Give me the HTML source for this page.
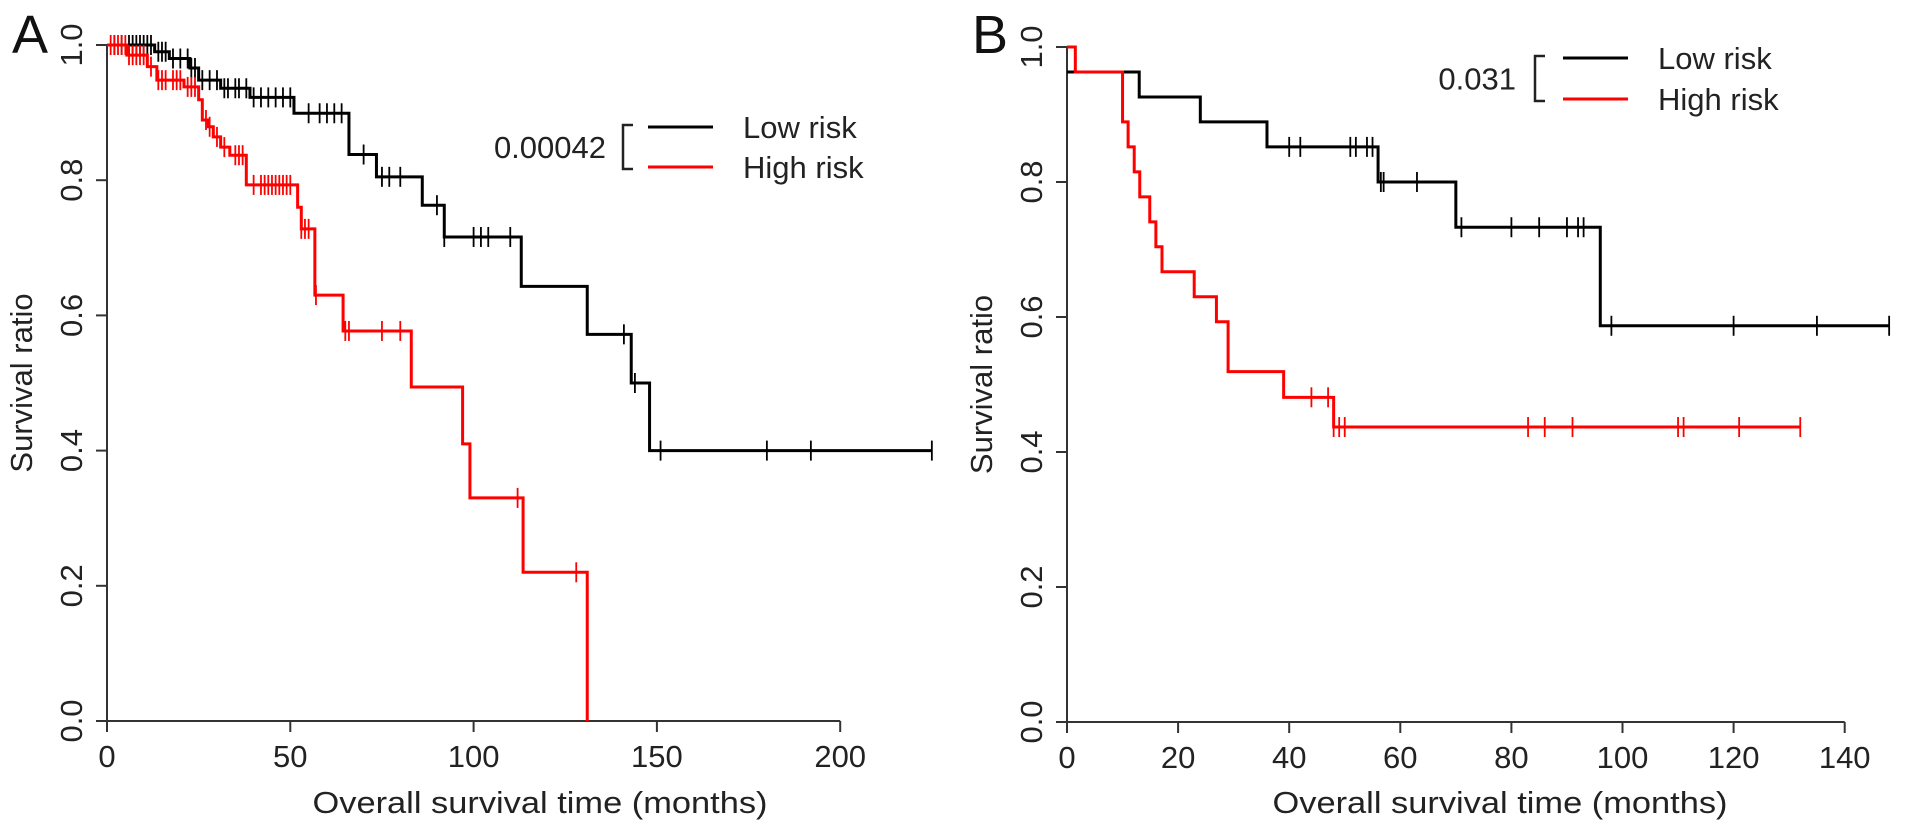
<!DOCTYPE html>
<html><head><meta charset="utf-8"><style>
html,body{margin:0;padding:0;background:#fff;}
svg{display:block;font-family:"Liberation Sans",Arial,sans-serif;}
</style></head><body>
<svg id="fig" width="1913" height="835" viewBox="0 0 1913 835" xmlns="http://www.w3.org/2000/svg"></svg>
<script>
// Panel A data
const aTicksX = [0, 50, 100, 150, 200];
const yTicks = [0.0, 0.2, 0.4, 0.6, 0.8, 1.0];
const yTickLabels = ["0.0", "0.2", "0.4", "0.6", "0.8", "1.0"];
const aLowTimes = [0, 13, 17, 22.6, 25, 31, 39, 51, 66, 73.5, 86, 92, 113, 131, 143, 148];
const aLowSurv = [1.0, 0.99, 0.98, 0.966, 0.948, 0.936, 0.9225, 0.899, 0.838, 0.805, 0.763, 0.716, 0.643, 0.572, 0.5, 0.4];
const aLowEnd = 225;
const aLowCensor = [2,4,6,7,8,9,10,11,12,14,15,16,18,20,22,23,24,26,28,30,32,33,35,36,38,40,42,44,46,48,50,55,58,60,62,64,70,75,77,80,90,92,100,102,104,110,141,144,151,180,192,225];
const aHighTimes = [0, 5.4, 11, 13.6, 21, 25, 26, 27.6, 29, 31, 33.5, 38, 52, 53, 56.7, 64.4, 83, 97, 99, 113.5, 131];
const aHighSurv = [1.0, 0.985, 0.968, 0.948, 0.938, 0.919, 0.889, 0.879, 0.864, 0.849, 0.837, 0.793, 0.76, 0.728, 0.63, 0.577, 0.494, 0.41, 0.33, 0.22, 0.0];
const aHighEnd = 131;
const aHighCensor = [1,2,3,4,5,6,7,8,9,10,12,14,15,16,18,19,20,22,23,24,27,28,30,32,35,36,37,40,42,43,44,45,46,47,48,49,50,53,54,55,57,65,66,75,80,112,128];
// Panel B data
const bTicksX = [0, 20, 40, 60, 80, 100, 120, 140];
const bLowTimes = [0, 13, 24, 36, 56, 70, 96];
const bLowSurv = [0.963, 0.926, 0.889, 0.852, 0.8, 0.733, 0.587];
const bLowEnd = 148;
const bLowCensor = [40, 42, 51, 52, 54, 55, 56.5, 57, 63, 71, 80, 85, 90, 92, 93, 98, 120, 135, 148];
const bHighTimes = [0, 1.5, 10, 11, 12.1, 13.1, 14.9, 16, 17.1, 22.9, 26.9, 29, 39, 48];
const bHighSurv = [1.0, 0.963, 0.889, 0.852, 0.815, 0.778, 0.741, 0.704, 0.667, 0.63, 0.593, 0.519, 0.481, 0.437];
const bHighEnd = 132;
const bHighCensor = [44, 47, 48, 49, 50, 83, 86, 91, 110, 111, 121, 132];

const NS = "http://www.w3.org/2000/svg";
const svg = document.getElementById("fig");
function mk(tag, attrs, parent) {
  const e = document.createElementNS(NS, tag);
  for (const k in attrs) e.setAttribute(k, attrs[k]);
  (parent || svg).appendChild(e);
  return e;
}
function stepAt(times, surv, t) {
  let s = surv[0];
  for (let i = 0; i < times.length; i++) if (times[i] <= t) s = surv[i];
  return s;
}

function panel(cfg) {
  const g = mk("g", {});
  
  
  const X = t => cfg.x0 + (t - 0) * cfg.pxPer;
  const Y = v => cfg.yBot - v * (cfg.yBot - cfg.yTop);
  // axes
  const yAxis = mk("line", {x1: cfg.x0, y1: Y(1), x2: cfg.x0, y2: Y(0), stroke: "#333", "stroke-width": 2}, g);
  
  
  const xMax = cfg.ticksX[cfg.ticksX.length - 1];
  const xAxis = mk("line", {x1: X(0), y1: Y(0), x2: X(xMax), y2: Y(0), stroke: "#333", "stroke-width": 2}, g);
  
  
  yTicks.forEach((v, i) => {
    mk("line", {x1: cfg.x0 - 11, y1: Y(v), x2: cfg.x0, y2: Y(v), stroke: "#333", "stroke-width": 2}, g);
    const tx = mk("text", {x: 0, y: 0, "font-size": 31, fill: "#222", "text-anchor": "middle",
      transform: `translate(${cfg.x0 - 25},${Y(v)}) rotate(-90)`}, g);
    tx.textContent = yTickLabels[i];
    
    
  });
  cfg.ticksX.forEach(t => {
    mk("line", {x1: X(t), y1: Y(0), x2: X(t), y2: Y(0) + 11, stroke: "#333", "stroke-width": 2}, g);
    const tx = mk("text", {x: X(t), y: Y(0) + 46, "font-size": 31, fill: "#222", "text-anchor": "middle"}, g);
    tx.textContent = String(t);
    
    
  });
  const yt = mk("text", {x: 0, y: 0, "font-size": 31, fill: "#222", "text-anchor": "middle",
    transform: `translate(${cfg.x0 - 75},${(Y(0) + Y(1)) / 2}) rotate(-90)`}, g);
  yt.textContent = "Survival ratio";
  
  
  const xt = mk("text", {x: cfg.titleX, y: 813, "font-size": 31, fill: "#222", "text-anchor": "middle", textLength: 455, lengthAdjust: "spacingAndGlyphs"}, g);
  xt.textContent = "Overall survival time  (months)";
  
  
  const lt = mk("text", {x: cfg.x0 - 95, y: 53, "font-size": 54, fill: "#111"}, g);
  lt.textContent = cfg.letter;
  
  

  cfg.series.forEach(s => {
    let d = `M${X(s.times[0])},${Y(s.surv[0])}`;
    for (let i = 1; i < s.times.length; i++) {
      d += ` H${X(s.times[i])} V${Y(s.surv[i])}`;
    }
    d += ` H${X(s.end)}`;
    const p = mk("path", {d: d, fill: "none", stroke: s.color, "stroke-width": 3}, g);
    
    
    s.censor.forEach(t => {
      const v = stepAt(s.times, s.surv, t);
      const c = mk("line", {x1: X(t), y1: Y(v) - 10, x2: X(t), y2: Y(v) + 10, stroke: s.color, "stroke-width": 1.8}, g);
      
      
    });
  });

  // legend
  const L = cfg.legend;
  const lg = mk("g", {}, g);
  
  
  const pv = mk("text", {x: L.pEnd, y: (L.y1 + L.y2) / 2 + 11, "font-size": 31, fill: "#222", "text-anchor": "end"}, lg);
  pv.textContent = L.p;
  
  
  mk("path", {d: `M${L.bx + 10},${L.y1 - 2} H${L.bx} V${L.y2 + 2} H${L.bx + 10}`, fill: "none", stroke: "#222", "stroke-width": 2.5}, lg);
  mk("line", {x1: L.lx, y1: L.y1, x2: L.lx + 65, y2: L.y1, stroke: "#000", "stroke-width": 3}, lg);
  mk("line", {x1: L.lx, y1: L.y2, x2: L.lx + 65, y2: L.y2, stroke: "#ff0000", "stroke-width": 3}, lg);
  const t1 = mk("text", {x: L.tx, y: L.y1 + 11, "font-size": 31, fill: "#222"}, lg);
  t1.textContent = "Low risk";
  
  
  const t2 = mk("text", {x: L.tx, y: L.y2 + 11, "font-size": 31, fill: "#222"}, lg);
  t2.textContent = "High risk";
  
  
}

panel({
  name: "panel-a", letter: "A", x0: 107, pxPer: 3.666, yTop: 45, yBot: 721, ticksX: aTicksX, titleX: 540,
  series: [
    {name: "low-risk", color: "#000", times: aLowTimes, surv: aLowSurv, end: aLowEnd, censor: aLowCensor},
    {name: "high-risk", color: "#ff0000", times: aHighTimes, surv: aHighSurv, end: aHighEnd, censor: aHighCensor}
  ],
  legend: {p: "0.00042", pEnd: 606, bx: 623, lx: 648, tx: 743, y1: 127, y2: 167}
});
panel({
  name: "panel-b", letter: "B", x0: 1067, pxPer: 5.555, yTop: 47, yBot: 722, ticksX: bTicksX, titleX: 1500,
  series: [
    {name: "low-risk", color: "#000", times: bLowTimes, surv: bLowSurv, end: bLowEnd, censor: bLowCensor},
    {name: "high-risk", color: "#ff0000", times: bHighTimes, surv: bHighSurv, end: bHighEnd, censor: bHighCensor}
  ],
  legend: {p: "0.031", pEnd: 1516, bx: 1535, lx: 1563, tx: 1658, y1: 58, y2: 99}
});
</script>
</body></html>
